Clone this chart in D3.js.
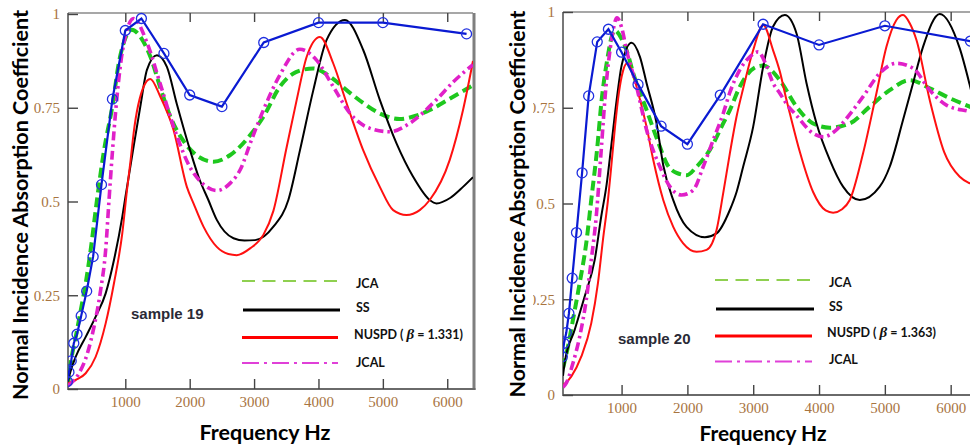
<!DOCTYPE html>
<html><head><meta charset="utf-8">
<script src="https://cdn.jsdelivr.net/npm/d3@7"></script>
<style>body{margin:0;background:#fff} svg{display:block;background:#fff}</style>
</head><body>
<svg id="c" width="970" height="447"></svg>
<script>
// ---------- data ----------
const freqTicks = [1000, 2000, 3000, 4000, 5000, 6000];
const absTicks = [0, 0.25, 0.5, 0.75, 1];
const absTickLabels = ["0", "0.25", "0.5", "0.75", "1"];
const legendNames = ["JCA", "SS", "NUSPD", "JCAL"];
const sampleNames = ["sample 19", "sample 20"];
const betaValues = ["1.331", "1.363"];
const xTitle = "Frequency Hz";
const yTitle = "Normal Incidence Absorption Coefficient";

const s19Measured = [[100,0.02],[125,0.045],[160,0.075],[200,0.122],[250,0.146],[315,0.195],[400,0.261],[500,0.353],[630,0.545],[800,0.773],[1000,0.956],[1250,0.988],[1600,0.895],[2000,0.784],[2500,0.753],[3150,0.924],[4000,0.977],[5000,0.977],[6300,0.947]];
const s19JCA = [[110,0.01],[152,0.069],[230,0.139],[308,0.21],[385,0.282],[462,0.371],[560,0.504],[670,0.637],[800,0.755],[900,0.87],[1000,0.935],[1100,0.958],[1250,0.935],[1390,0.886],[1550,0.8],[1700,0.726],[1930,0.655],[2150,0.618],[2370,0.606],[2630,0.624],[2940,0.677],[3145,0.726],[3400,0.806],[3650,0.845],[3920,0.855],[4180,0.833],[4450,0.795],[4700,0.762],[4950,0.735],[5260,0.72],[5500,0.728],[5730,0.744],[6000,0.77],[6200,0.79],[6400,0.81]];
const s19SS = [[110,0.02],[127,0.033],[230,0.086],[385,0.139],[540,0.193],[695,0.255],[824,0.344],[953,0.459],[1000,0.51],[1120,0.637],[1233,0.753],[1336,0.851],[1491,0.89],[1646,0.859],[1800,0.76],[2000,0.64],[2150,0.56],[2290,0.504],[2421,0.451],[2680,0.402],[2850,0.396],[3016,0.397],[3300,0.433],[3532,0.504],[3713,0.637],[3920,0.797],[4127,0.931],[4411,0.984],[4695,0.904],[4953,0.771],[5212,0.655],[5470,0.566],[5728,0.504],[5832,0.495],[6050,0.51],[6245,0.539],[6400,0.565]];
const s19NUSPD = [[110,0.015],[230,0.024],[385,0.042],[540,0.086],[695,0.175],[824,0.282],[953,0.415],[1026,0.53],[1083,0.611],[1129,0.682],[1284,0.806],[1388,0.827],[1543,0.78],[1749,0.691],[1956,0.539],[2059,0.495],[2214,0.433],[2421,0.379],[2600,0.36],[2731,0.357],[2938,0.375],[3144,0.411],[3300,0.475],[3500,0.64],[3662,0.771],[3817,0.886],[4023,0.939],[4230,0.868],[4437,0.762],[4694,0.637],[4953,0.539],[5160,0.477],[5367,0.464],[5573,0.477],[5728,0.504],[6039,0.611],[6245,0.744],[6400,0.875]];
const s19JCAL = [[110,0.008],[178,0.019],[282,0.042],[411,0.095],[514,0.166],[617,0.264],[695,0.371],[747,0.504],[798,0.628],[850,0.74],[975,0.92],[1130,0.988],[1340,0.922],[1540,0.815],[1750,0.70],[2000,0.593],[2200,0.548],[2420,0.529],[2630,0.549],[2800,0.59],[2940,0.655],[3145,0.744],[3400,0.837],[3710,0.906],[3970,0.877],[4230,0.806],[4490,0.735],[4800,0.695],[5110,0.686],[5420,0.709],[5830,0.771],[6100,0.82],[6400,0.865]];

const s20Measured = [[100,0.1],[125,0.135],[160,0.163],[200,0.213],[250,0.305],[315,0.424],[400,0.58],[500,0.781],[630,0.922],[800,0.955],[1000,0.895],[1250,0.811],[1600,0.702],[2000,0.655],[2500,0.783],[3150,0.968],[4000,0.914],[5000,0.964],[6300,0.924]];
const s20JCA = [[110,0.07],[185,0.126],[261,0.196],[363,0.292],[463,0.396],[539,0.509],[630,0.645],[697,0.77],[773,0.866],[896,0.952],[1000,0.93],[1076,0.9],[1177,0.84],[1380,0.744],[1582,0.648],[1683,0.605],[1836,0.58],[1990,0.574],[2139,0.596],[2341,0.64],[2544,0.709],[2645,0.744],[2797,0.805],[3050,0.857],[3151,0.86],[3404,0.822],[3657,0.753],[3910,0.709],[4163,0.698],[4467,0.709],[4771,0.753],[5074,0.796],[5378,0.822],[5682,0.801],[5985,0.775],[6289,0.753],[6400,0.745]];
const s20SS = [[110,0.05],[135,0.083],[287,0.17],[439,0.257],[591,0.352],[691,0.466],[773,0.55],[843,0.65],[925,0.77],[1000,0.86],[1152,0.92],[1279,0.883],[1380,0.814],[1532,0.709],[1633,0.6],[1785,0.509],[1987,0.439],[2265,0.412],[2443,0.422],[2645,0.483],[2747,0.53],[2847,0.596],[2999,0.70],[3151,0.857],[3302,0.962],[3480,0.992],[3658,0.944],[3810,0.814],[3962,0.709],[4163,0.614],[4365,0.544],[4619,0.509],[4922,0.544],[5074,0.596],[5276,0.718],[5428,0.814],[5580,0.909],[5834,0.995],[6138,0.905],[6289,0.81],[6400,0.73]];
const s20NUSPD = [[110,0.025],[235,0.048],[387,0.1],[539,0.187],[641,0.292],[717,0.405],[793,0.509],[843,0.596],[900,0.7],[960,0.79],[1020,0.845],[1086,0.866],[1150,0.85],[1228,0.805],[1380,0.70],[1481,0.614],[1633,0.509],[1785,0.439],[1936,0.396],[2139,0.374],[2291,0.379],[2443,0.431],[2544,0.527],[2645,0.631],[2747,0.727],[2847,0.80],[2999,0.90],[3151,0.966],[3302,0.90],[3404,0.845],[3506,0.77],[3557,0.735],[3708,0.635],[3910,0.53],[4100,0.482],[4214,0.476],[4350,0.485],[4467,0.509],[4669,0.631],[4872,0.788],[5024,0.909],[5176,0.979],[5276,0.992],[5380,0.97],[5480,0.927],[5682,0.77],[5900,0.635],[6138,0.57],[6289,0.553],[6400,0.545]];
const s20JCAL = [[110,0.02],[159,0.031],[261,0.083],[363,0.152],[463,0.248],[539,0.352],[615,0.466],[691,0.64],[760,0.8],[850,0.93],[930,0.985],[1000,0.96],[1076,0.9],[1228,0.805],[1380,0.692],[1582,0.596],[1734,0.544],[1911,0.522],[2088,0.535],[2240,0.596],[2392,0.666],[2544,0.735],[2645,0.79],[2800,0.85],[2949,0.883],[3074,0.896],[3200,0.86],[3302,0.814],[3404,0.788],[3506,0.76],[3657,0.73],[3910,0.683],[4062,0.674],[4250,0.69],[4417,0.722],[4669,0.779],[4922,0.84],[5176,0.866],[5428,0.853],[5682,0.796],[5935,0.757],[6289,0.74],[6400,0.735]];

const freqDomain = [110, 6400];
const absDomain = [0, 1];

// ---------- layout / style ----------
const panels = [
  { sample: 0, measured: s19Measured, jca: s19JCA, ss: s19SS, nuspd: s19NUSPD, jcal: s19JCAL,
    L: 68, R: 473, T: 14, B: 389, frameTop: 13, rightBorder: true, labelClip: 0,
    yTitleX: 28, yTitleY: 205, yTitleLen: 390, xTitleX: 265, xTitleY: 440, xTitleLen: 131,
    sampleX: 131, sampleY: 313, legX1: 242, legX2: 338, legTextX: 356,
    legY: [281, 310, 337.5, 363], legTextY: [283.5, 307.5, 333.5, 362] },
  { sample: 1, measured: s20Measured, jca: s20JCA, ss: s20SS, nuspd: s20NUSPD, jcal: s20JCAL,
    L: 563, R: 977, T: 12, B: 395, frameTop: 12, rightBorder: false, labelClip: 533,
    yTitleX: 525, yTitleY: 204, yTitleLen: 387, xTitleX: 763, xTitleY: 441, xTitleLen: 127,
    sampleX: 618, sampleY: 338, legX1: 715, legX2: 812, legTextX: 829,
    legY: [280, 309, 336, 361.5], legTextY: [282.5, 306.5, 332, 359.5] }
];

const svg = d3.select("#c");
const defs = svg.append("defs");

panels.forEach((p, i) => {
  const x = d3.scaleLinear().domain(freqDomain).range([p.L, p.R]);
  const y = d3.scaleLinear().domain(absDomain).range([p.B, p.T]);
  const g = svg.append("g");

  const clipId = "clip" + i;
  defs.append("clipPath").attr("id", clipId).append("rect")
    .attr("x", p.L).attr("y", p.T - 8).attr("width", Math.min(p.R, 970) - p.L).attr("height", p.B - p.T + 8);

  // frame
  const right = Math.min(p.R, 970);
  g.append("line").attr("x1", p.L).attr("x2", right).attr("y1", p.frameTop).attr("y2", p.frameTop)
    .attr("stroke", "#8a8a8a").attr("stroke-width", 1.3);
  if (p.rightBorder) {
    g.append("line").attr("x1", p.R + 1).attr("x2", p.R + 1).attr("y1", p.frameTop).attr("y2", p.B + 1)
      .attr("stroke", "#7f7f7f").attr("stroke-width", 3);
  }
  g.append("line").attr("x1", p.L).attr("x2", right + (p.rightBorder ? 2.5 : 0)).attr("y1", p.B).attr("y2", p.B)
    .attr("stroke", "#6a6a6a").attr("stroke-width", 2);
  g.append("line").attr("x1", p.L).attr("x2", p.L).attr("y1", p.frameTop).attr("y2", p.B + 1)
    .attr("stroke", "#555").attr("stroke-width", 1.6);

  // axes
  const tickFont = "'Liberation Serif', 'DejaVu Serif', serif";
  const ax = g.append("g").attr("transform", `translate(0,${p.B})`)
    .call(d3.axisBottom(x).tickValues(freqTicks).tickSize(-10).tickPadding(7).tickFormat(d3.format("d")));
  const at = g.append("g").attr("transform", `translate(0,${p.frameTop})`)
    .call(d3.axisTop(x).tickValues(freqTicks).tickSize(-9).tickFormat(""));
  const clipL = "clipL" + i;
  defs.append("clipPath").attr("id", clipL).append("rect")
    .attr("x", p.labelClip).attr("y", 0).attr("width", 970).attr("height", 447);
  const alWrap = g.append("g").attr("clip-path", `url(#${clipL})`);
  const al = alWrap.append("g").attr("transform", `translate(${p.L},0)`)
    .call(d3.axisLeft(y).tickValues(absTicks).tickSize(-10).tickPadding(8)
      .tickFormat((d, k) => absTickLabels[k]));
  [ax, at, al].forEach(a => {
    a.select(".domain").remove();
    a.selectAll(".tick line").attr("stroke", "#444").attr("stroke-width", 1.4);
    a.selectAll(".tick text").attr("font-family", tickFont).attr("font-size", 15).attr("fill", "#a8743f");
  });

  // curves
  const line = d3.line().x(d => x(d[0])).y(d => y(d[1])).curve(d3.curveMonotoneX);
  const plot = g.append("g").attr("clip-path", `url(#${clipId})`);
  plot.append("path").datum(p.jca).attr("d", line).attr("fill", "none")
    .attr("stroke", "#1ec81e").attr("stroke-width", 4).attr("stroke-dasharray", "10,5");
  plot.append("path").datum(p.ss).attr("d", line).attr("fill", "none")
    .attr("stroke", "#000").attr("stroke-width", 2);
  plot.append("path").datum(p.nuspd).attr("d", line).attr("fill", "none")
    .attr("stroke", "#ff1010").attr("stroke-width", 2);
  plot.append("path").datum(p.jcal).attr("d", line).attr("fill", "none")
    .attr("stroke", "#e020c8").attr("stroke-width", 3.6).attr("stroke-dasharray", "9,4,2.5,4");
  const lin = d3.line().x(d => x(d[0])).y(d => y(d[1]));
  plot.append("path").datum(p.measured).attr("d", lin).attr("fill", "none")
    .attr("stroke", "#0a1ad2").attr("stroke-width", 2.2);
  plot.selectAll("circle.m").data(p.measured).join("circle").attr("class", "m")
    .attr("cx", d => x(d[0])).attr("cy", d => y(d[1])).attr("r", 5)
    .attr("fill", "none").attr("stroke", "#2030e0").attr("stroke-width", 1.3);

  // titles
  const titleFont = "Lato, 'Open Sans', sans-serif";
  g.append("text").attr("transform", `translate(${p.yTitleX},${p.yTitleY}) rotate(-90)`)
    .attr("text-anchor", "middle").attr("font-family", titleFont).attr("font-weight", "bold")
    .attr("font-size", 21).attr("fill", "#000").attr("textLength", p.yTitleLen)
    .attr("lengthAdjust", "spacingAndGlyphs").text(yTitle);
  g.append("text").attr("x", p.xTitleX).attr("y", p.xTitleY).attr("text-anchor", "middle")
    .attr("font-family", titleFont).attr("font-weight", "bold").attr("font-size", 21.5)
    .attr("fill", "#000").attr("textLength", p.xTitleLen).attr("lengthAdjust", "spacingAndGlyphs").text(xTitle);

  g.append("text").attr("x", p.sampleX).attr("y", p.sampleY).attr("dominant-baseline", "central")
    .attr("font-family", "'Liberation Sans', Arial, sans-serif").attr("font-weight", "bold")
    .attr("font-size", 15).attr("fill", "#2a2a36").text(sampleNames[p.sample]);

  // legend
  const legStyles = [
    { stroke: "#8fd050", w: 1.8, dash: "13,7.5" },
    { stroke: "#000", w: 3.2, dash: null },
    { stroke: "#ff0000", w: 3.2, dash: null },
    { stroke: "#e040d8", w: 2, dash: "17,5,3,5" }
  ];
  legendNames.forEach((name, k) => {
    const st = legStyles[k];
    g.append("line").attr("x1", p.legX1 + (k === 1 ? 1 : 0)).attr("x2", p.legX2 + (k === 1 ? 2 : 0))
      .attr("y1", p.legY[k]).attr("y2", p.legY[k])
      .attr("stroke", st.stroke).attr("stroke-width", st.w).attr("stroke-dasharray", st.dash);
    const t = g.append("text").attr("x", p.legTextX - (k === 2 ? 2 : 0)).attr("y", p.legTextY[k])
      .attr("dominant-baseline", "central").attr("font-family", "Lato, 'Open Sans', sans-serif")
      .attr("font-weight", "bold").attr("font-size", 12.5).attr("fill", "#111");
    if (k === 2) {
      t.append("tspan").text(name + " ( ");
      t.append("tspan").attr("font-family", "'Liberation Serif', serif").attr("font-style", "italic")
        .attr("font-size", 15).text("β");
      t.append("tspan").text(" = " + betaValues[p.sample] + ")");
    } else {
      t.text(name);
    }
  });
});
</script></body></html>
